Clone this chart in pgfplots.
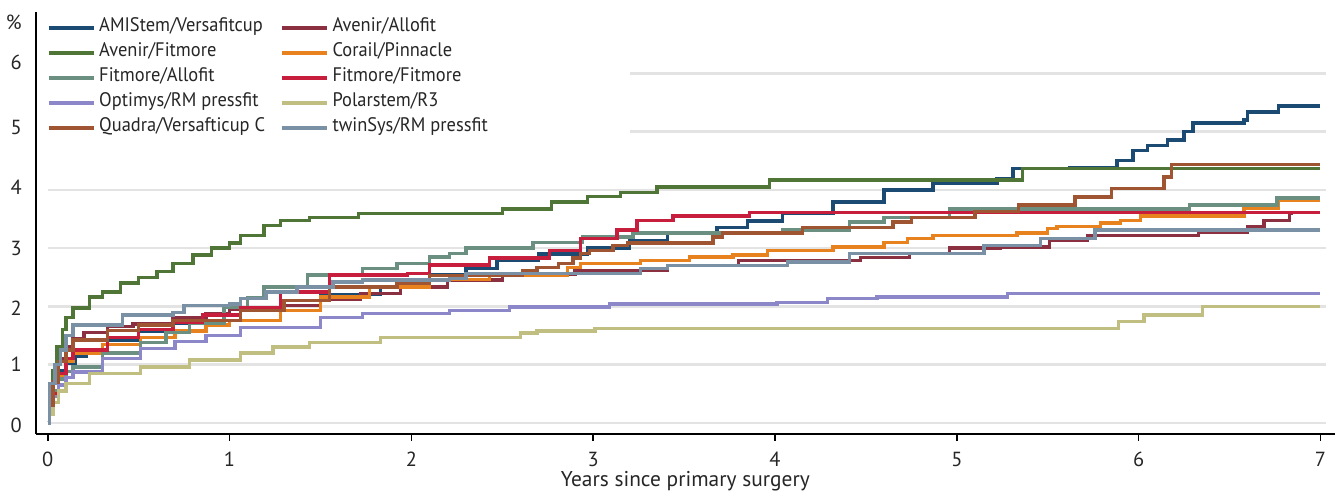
\documentclass[border=0pt]{standalone}
\usepackage{pgfplots}
\pgfplotsset{compat=1.18}
\usepackage{fontspec}
\setmainfont{PT Sans}
\newfontfamily\legfont{PT Sans}[FakeStretch=0.94]
\definecolor{cAMI}{HTML}{1B4B73}
\definecolor{cAvAl}{HTML}{8B3040}
\definecolor{cAvFi}{HTML}{507637}
\definecolor{cCor}{HTML}{E8821E}
\definecolor{cFiAl}{HTML}{6B8F80}
\definecolor{cFiFi}{HTML}{C81E3E}
\definecolor{cOpt}{HTML}{8C87C8}
\definecolor{cPol}{HTML}{C0BE80}
\definecolor{cQua}{HTML}{A05532}
\definecolor{cTwin}{HTML}{7A91A5}
\definecolor{gridgray}{HTML}{E3E3E3}
\begin{document}
\begin{tikzpicture}
\begin{axis}[
  scale only axis, width=649.5pt, height=211pt,
  xmin=-0.066, xmax=7.08, ymin=-0.19, ymax=7.06,
  axis x line*=bottom, axis y line*=left,
  axis line style={line width=0.9pt, black},
  xtick={0,1,2,3,4,5,6,7},
  ytick={-0.04,1,1.97,3,4.04,5.07,6.19,6.88},
  yticklabels={0,1,2,3,4,5,6,\%},
  tick align=outside, major tick length=3.5pt,
  xtick style={line width=0.8pt, black},
  ytick style={draw=none},
  /pgf/number format/assume math mode=true,
  tick label style={font=\fontsize{10.2}{12}\selectfont, text=black!85},
  xticklabel style={yshift=-2.2pt},
  xlabel={Years since primary surgery},
  xlabel style={at={(axis description cs:0.5,-0.1245)}, anchor=base, font=\fontsize{10.7}{12}\selectfont, text=black!85},
  every axis plot/.append style={const plot, line width=1.7pt},
  legend columns=2,
  legend cell align=left,
  legend style={at={(axis cs:-0.04,7.07)}, anchor=north west, draw=none, fill=white,
    font=\legfont\fontsize{9.8}{12}\selectfont, text=black!85,
    nodes={inner xsep=2pt, inner ysep=0pt, text height=8pt, text depth=4.5pt},
    /tikz/every even column/.append style={column sep=5.5pt}},
  legend image code/.code={\draw[#1, line width=1.7pt] (0pt,0pt) -- (22.5pt,0pt);},
]
\pgfplotsinvokeforeach{0,1,2,3,4}{\draw[gridgray, line width=1.3pt] (axis cs:0,#1) -- (axis cs:7.03,#1);}
\pgfplotsinvokeforeach{5,6}{\draw[gridgray, line width=1.3pt] (axis cs:3.2,#1) -- (axis cs:7.03,#1);}
% AMIStem/Versafitcup
\addplot[cAMI] coordinates {(0,0) (0.01,0.4) (0.03,0.7) (0.06,0.9) (0.1,1.02) (0.15,1.15) (0.21,1.25) (0.33,1.42) (0.5,1.58) (0.69,1.71) (0.85,1.85) (1.06,1.97) (1.3,2.1) (1.5,2.2) (1.83,2.33) (1.94,2.45) (2.1,2.55) (2.3,2.65) (2.47,2.8) (2.7,2.9) (2.97,3.0) (3.2,3.12) (3.41,3.26) (3.68,3.36) (3.85,3.47) (4.04,3.6) (4.32,3.79) (4.6,4.0) (4.87,4.12) (5.22,4.2) (5.31,4.37) (5.62,4.39) (5.88,4.51) (5.97,4.68) (6.05,4.76) (6.16,4.86) (6.25,5.0) (6.3,5.15) (6.58,5.2) (6.6,5.34) (6.77,5.44) (7,5.44)};
\addlegendentry{AMIStem/Versafitcup}
% Avenir/Allofit
\addplot[cAvAl] coordinates {(0,0) (0.01,0.3) (0.03,0.7) (0.06,1.1) (0.1,1.3) (0.14,1.45) (0.2,1.55) (0.33,1.65) (0.47,1.7) (0.69,1.8) (0.87,1.88) (1.0,1.95) (1.28,2.02) (1.5,2.12) (1.72,2.22) (1.94,2.33) (2.2,2.45) (2.5,2.55) (2.9,2.62) (3.41,2.7) (3.8,2.79) (4.47,2.84) (4.74,2.91) (4.96,3.0) (5.24,3.02) (5.51,3.13) (5.72,3.22) (6.33,3.27) (6.6,3.37) (6.69,3.48) (6.83,3.6) (6.85,3.6)};
\addlegendentry{Avenir/Allofit}
% Avenir/Fitmore
\addplot[cAvFi] coordinates {(0,0) (0.01,0.4) (0.03,0.9) (0.05,1.3) (0.08,1.6) (0.1,1.81) (0.14,1.97) (0.23,2.16) (0.3,2.25) (0.4,2.4) (0.5,2.5) (0.6,2.6) (0.69,2.74) (0.8,2.88) (0.9,3.0) (1.0,3.09) (1.06,3.22) (1.19,3.39) (1.28,3.48) (1.44,3.53) (1.71,3.6) (2.5,3.67) (2.77,3.79) (2.97,3.89) (3.15,3.96) (3.35,4.05) (3.97,4.17) (5.36,4.37) (7,4.37)};
\addlegendentry{Avenir/Fitmore}
% Corail/Pinnacle
\addplot[cCor] coordinates {(0,0) (0.01,0.2) (0.03,0.5) (0.06,0.8) (0.1,1.05) (0.14,1.2) (0.3,1.35) (0.51,1.47) (0.7,1.58) (0.87,1.68) (1.0,1.76) (1.28,1.93) (1.5,2.16) (1.77,2.33) (2.1,2.46) (2.43,2.53) (2.86,2.67) (2.93,2.74) (3.26,2.79) (3.53,2.85) (3.77,2.88) (3.96,2.96) (4.32,3.02) (4.6,3.1) (4.73,3.17) (4.87,3.22) (5.33,3.26) (5.5,3.34) (5.55,3.37) (5.79,3.43) (5.9,3.48) (6.01,3.55) (6.44,3.55) (6.44,nan) (6.58,3.68) (6.77,3.83) (7,3.83)};
\addlegendentry{Corail/Pinnacle}
% Fitmore/Allofit
\addplot[cFiAl] coordinates {(0,0) (0.01,0.3) (0.03,0.55) (0.06,0.75) (0.1,0.88) (0.14,0.96) (0.3,1.2) (0.51,1.38) (0.65,1.55) (0.78,1.71) (0.97,1.98) (1.1,2.15) (1.19,2.33) (1.43,2.54) (1.73,2.65) (1.92,2.74) (2.1,2.85) (2.21,2.91) (2.3,3.0) (2.67,3.1) (2.94,3.19) (3.22,3.26) (4.04,3.31) (4.41,3.45) (4.6,3.53) (4.96,3.67) (6.28,3.74) (6.76,3.86) (7,3.86)};
\addlegendentry{Fitmore/Allofit}
% Fitmore/Fitmore
\addplot[cFiFi] coordinates {(0,0) (0.01,0.2) (0.03,0.5) (0.06,0.85) (0.1,1.1) (0.14,1.25) (0.33,1.47) (0.5,1.6) (0.69,1.72) (0.85,1.85) (1.06,1.98) (1.28,2.25) (1.55,2.54) (1.98,2.57) (2.1,2.71) (2.43,2.83) (2.76,2.96) (2.93,3.17) (3.13,3.31) (3.24,3.48) (3.44,3.55) (3.86,3.61) (7,3.61)};
\addlegendentry{Fitmore/Fitmore}
% Optimys/RM pressfit
\addplot[cOpt] coordinates {(0,0) (0.01,0.2) (0.03,0.45) (0.06,0.65) (0.1,0.78) (0.14,0.87) (0.3,1.1) (0.51,1.28) (0.7,1.4) (0.87,1.5) (1.06,1.64) (1.5,1.81) (1.73,1.88) (2.21,1.93) (2.54,1.99) (3.09,2.04) (4.01,2.07) (4.29,2.14) (4.56,2.16) (5.28,2.22) (7,2.22)};
\addlegendentry{Optimys/RM pressfit}
% Polarstem/R3
\addplot[cPol] coordinates {(0,0) (0.01,0.15) (0.03,0.35) (0.06,0.55) (0.1,0.68) (0.23,0.85) (0.51,0.96) (0.78,1.08) (1.06,1.2) (1.24,1.3) (1.44,1.38) (1.83,1.47) (2.6,1.54) (2.69,1.58) (3.01,1.62) (5.89,1.74) (6.03,1.85) (6.35,2.0) (7,2.0)};
\addlegendentry{Polarstem/R3}
% Quadra/Versafticup C
\addplot[cQua] coordinates {(0,0) (0.01,0.3) (0.03,0.7) (0.06,1.05) (0.1,1.25) (0.14,1.42) (0.33,1.59) (0.5,1.68) (0.69,1.76) (1.06,1.93) (1.3,2.1) (1.55,2.33) (1.92,2.4) (2.1,2.53) (2.61,2.62) (2.69,2.67) (2.81,2.74) (2.89,2.83) (2.93,2.91) (2.98,2.96) (3.11,3.05) (3.19,3.09) (3.66,3.19) (3.71,3.26) (4.15,3.36) (4.65,3.45) (4.75,3.53) (5.1,3.63) (5.34,3.74) (5.65,3.88) (5.85,4.03) (6.14,4.22) (6.18,4.44) (7,4.44)};
\addlegendentry{Quadra/Versafticup C}
% twinSys/RM pressfit
\addplot[cTwin] coordinates {(0,0) (0.01,0.68) (0.04,1.0) (0.07,1.25) (0.1,1.5) (0.14,1.68) (0.41,1.85) (0.69,1.9) (0.75,2.02) (1.0,2.04) (1.06,2.14) (1.2,2.25) (1.37,2.33) (1.57,2.42) (1.73,2.45) (2.21,2.48) (2.3,2.57) (3.26,2.65) (3.41,2.7) (4.07,2.76) (4.41,2.91) (5.15,3.05) (5.46,3.17) (5.76,3.31) (7,3.31)};
\addlegendentry{twinSys/RM pressfit}
\coordinate (bbll) at (axis cs:-0.2624,-1.156);
\coordinate (bbur) at (axis cs:7.08,7.263);
\end{axis}
\pgfresetboundingbox
\useasboundingbox (bbll) rectangle (bbur);
\end{tikzpicture}
\end{document}
